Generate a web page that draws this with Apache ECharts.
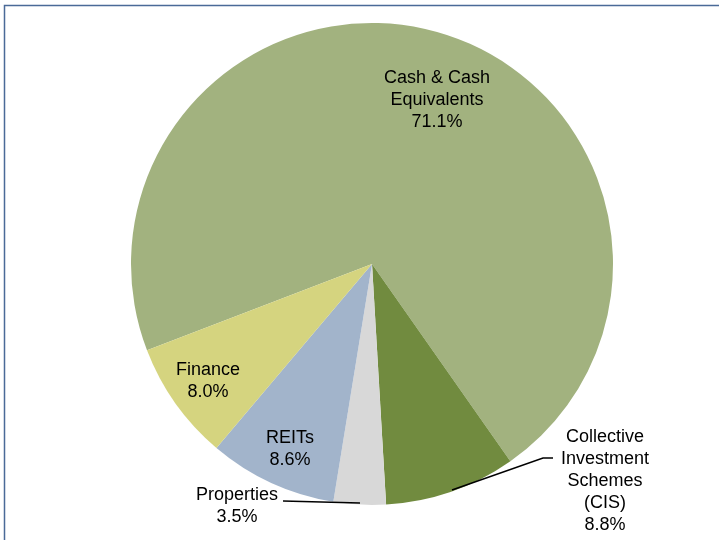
<!DOCTYPE html>
<html>
<head>
<meta charset="utf-8">
<script src="https://cdn.jsdelivr.net/npm/echarts@6/dist/echarts.min.js"></script>
<style>html,body{margin:0;padding:0;background:#fff}#c{width:719px;height:540px}</style>
</head>
<body>
<div id="c"></div>
<script>
const categories = ['Cash & Cash\nEquivalents', 'Collective\nInvestment\nSchemes\n(CIS)', 'Properties', 'REITs', 'Finance'];
const values = [71.1, 8.8, 3.5, 8.6, 8.0];
const colors = ['#A2B27F', '#718B3F', '#D8D8D8', '#A2B4CB', '#D5D47F'];

// label placement (styling/layout only)
const labelLayouts = [
  { x: 437, y: 100 },
  { x: 605, y: 481, line: [[553, 458], [543, 458], [452, 490]] },
  { x: 237, y: 506, line: [[283, 501], [360, 503]] },
  { x: 290, y: 449 },
  { x: 208, y: 381 }
];

const base = {
  type: 'pie',
  center: [372, 264],
  radius: [0, 241],
  startAngle: 201,
  clockwise: true,
  avoidLabelOverlap: false,
  silent: true,
  emphasis: { disabled: true }
};

const chart = echarts.init(document.getElementById('c'), null, { renderer: 'canvas' });
chart.setOption({
  animation: false,
  backgroundColor: '#ffffff',
  graphic: [{
    type: 'rect', left: 2, top: 3, shape: { width: 800, height: 600 },
    style: { fill: 'none', stroke: '#4A6A98', lineWidth: 1.5 }, z: 100
  }],
  series: [
    Object.assign({}, base, {
      z: 2,
      data: categories.map((n, i) => ({ name: n, value: values[i], itemStyle: { color: colors[i] } })),
      label: { show: false },
      labelLine: { show: false },
      itemStyle: { borderWidth: 0 }
    }),
    Object.assign({}, base, {
      z: 5,
      data: categories.map((n, i) => ({
        name: n, value: values[i],
        itemStyle: { color: 'rgba(0,0,0,0)' },
        label: { position: labelLayouts[i].line ? 'outside' : 'inside' },
        labelLine: { show: !!labelLayouts[i].line }
      })),
      label: {
        show: true,
        formatter: p => p.name + '\n' + p.value.toFixed(1) + '%',
        fontFamily: 'Liberation Sans, Arial, sans-serif',
        fontSize: 18,
        lineHeight: 22,
        color: '#000',
        align: 'center'
      },
      labelLine: { lineStyle: { color: '#000', width: 1.5 }, smooth: false },
      labelLayout: p => {
        const L = labelLayouts[p.dataIndex];
        const o = { x: L.x, y: L.y, align: 'center', verticalAlign: 'middle' };
        if (L.line) o.labelLinePoints = L.line;
        return o;
      },
      itemStyle: { borderWidth: 0 }
    })
  ]
});
</script>
</body>
</html>
